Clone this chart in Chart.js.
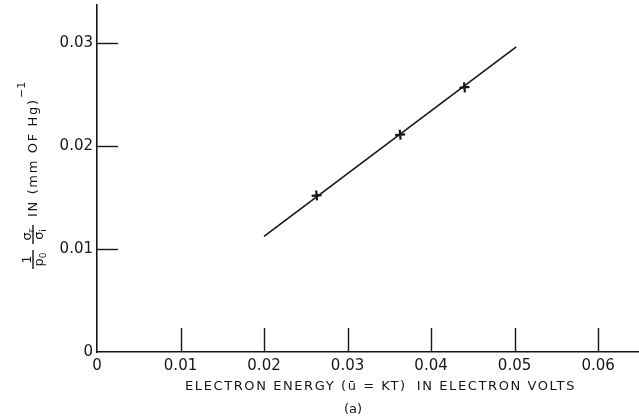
<!DOCTYPE html>
<html><head><meta charset="utf-8">
<script src="https://cdn.jsdelivr.net/npm/chart.js@4/dist/chart.umd.min.js"></script>
<style>html,body{margin:0;padding:0;background:#fff}#wrap{width:639px;height:420px}</style>
</head><body><div id="wrap"><canvas id="c" width="639" height="420"></canvas></div>
<script>
// ---- data ----
const fitLineX = [0.0200, 0.0502];
const fitLineY = [0.01123, 0.02963];
const pointX = [0.0263, 0.0363, 0.0440];
const pointY = [0.0152, 0.0211, 0.0257];
const xTicks = [0, 0.01, 0.02, 0.03, 0.04, 0.05, 0.06];
const xTickLabels = ['0', '0.01', '0.02', '0.03', '0.04', '0.05', '0.06'];
const yTicks = [0, 0.01, 0.02, 0.03];
const yTickLabels = ['0', '0.01', '0.02', '0.03'];
const xTitle = 'ELECTRON ENERGY (\u016B = KT)  IN ELECTRON VOLTS';
const yTitleMain = 'IN (mm OF Hg)';
const yTitleSup = '\u22121';
const panelLabel = '(a)';

const INK = '#161616';
const FONT = 'DejaVu Sans';
Chart.defaults.font.family = FONT;
Chart.defaults.color = INK;

function fitText(ctx, text, x, y, width) {
  ctx.letterSpacing = '0px';
  const w = ctx.measureText(text).width;
  const ls = (width - w) / Math.max(1, text.length - 1);
  ctx.letterSpacing = ls.toFixed(2) + 'px';
  ctx.textAlign = 'left';
  ctx.fillText(text, x, y);
  ctx.letterSpacing = '0px';
}
function fitWords(ctx, text, x, y, width, ls) {
  ctx.letterSpacing = ls + 'px';
  ctx.textAlign = 'left';
  const words = text.split(/\s+/);
  const ws = words.map(t => ctx.measureText(t).width);
  const total = ws.reduce((a, b) => a + b, 0);
  const weights = words.map((t, i) => (i === 0 ? 0 : (t === 'IN' ? 1.8 : 1)));
  const wsum = weights.reduce((a, b) => a + b, 0);
  const unit = (width - total) / wsum;
  let cx = x;
  words.forEach((t, i) => {
    cx += weights[i] * unit;
    ctx.fillText(t, cx, y);
    cx += ws[i];
  });
  ctx.letterSpacing = '0px';
}
function withSub(ctx, base, sub, cx, baseline, size) {
  ctx.font = size + 'px ' + FONT;
  const wb = ctx.measureText(base).width;
  ctx.font = Math.round(size * 0.7) + 'px ' + FONT;
  const ws = ctx.measureText(sub).width;
  const start = cx - (wb + ws) / 2;
  ctx.textAlign = 'left';
  ctx.font = size + 'px ' + FONT;
  ctx.fillText(base, start, baseline);
  ctx.font = Math.round(size * 0.7) + 'px ' + FONT;
  ctx.fillText(sub, start + wb, baseline + 3);
}

const decor = {
  id: 'decor',
  afterDraw(chart) {
    const {ctx, chartArea, scales} = chart;
    const xs = scales.x, ys = scales.y;
    ctx.save();
    ctx.strokeStyle = INK;
    ctx.lineWidth = 1.4;
    // inward tick marks
    xTicks.forEach(v => {
      if (v === 0) return;
      const px = Math.round(xs.getPixelForValue(v)) + 0.5;
      ctx.beginPath();
      ctx.moveTo(px, chartArea.bottom);
      ctx.lineTo(px, chartArea.bottom - 24);
      ctx.stroke();
    });
    yTicks.forEach(v => {
      if (v === 0) return;
      const py = Math.round(ys.getPixelForValue(v)) + 0.5;
      ctx.beginPath();
      ctx.moveTo(chartArea.left, py);
      ctx.lineTo(chartArea.left + 21, py);
      ctx.stroke();
    });
    // x title
    ctx.fillStyle = INK;
    ctx.textBaseline = 'alphabetic';
    ctx.font = '13px ' + FONT;
    fitWords(ctx, xTitle, 185, 390, 391, 1.6);
    ctx.font = '13px ' + FONT;
    ctx.textAlign = 'center';
    ctx.fillText(panelLabel, 353, 413);
    // y title (rotated), with fractions 1/p0 and sigma_r/sigma_i
    ctx.translate(37, 270);
    ctx.rotate(-Math.PI / 2);
    ctx.lineWidth = 1.4;
    ctx.beginPath(); ctx.moveTo(1, -4); ctx.lineTo(20, -4); ctx.stroke();
    ctx.beginPath(); ctx.moveTo(26, -4); ctx.lineTo(45, -4); ctx.stroke();
    ctx.font = '13px ' + FONT;
    ctx.textAlign = 'center';
    ctx.fillText('1', 10.5, -6.5);
    withSub(ctx, 'p', '0', 10.5, 5.5, 13);
    withSub(ctx, '\u03C3', 'r', 35.5, -6.5, 13);
    withSub(ctx, '\u03C3', 'i', 35.5, 5.5, 13);
    ctx.font = '13px ' + FONT;
    fitText(ctx, yTitleMain, 53, 0, 117);
    ctx.font = '11px ' + FONT;
    ctx.textAlign = 'left';
    ctx.fillText(yTitleSup, 172, -12);
    ctx.restore();
  }
};

new Chart(document.getElementById('c'), {
  type: 'scatter',
  data: {
    datasets: [
      {
        type: 'line',
        data: fitLineX.map((x, i) => ({x, y: fitLineY[i]})),
        borderColor: INK,
        borderWidth: 1.6,
        pointRadius: 0,
        fill: false
      },
      {
        data: pointX.map((x, i) => ({x, y: pointY[i]})),
        pointStyle: 'crossRot',
        rotation: 40,
        pointRadius: 5,
        borderWidth: 2.2,
        borderColor: INK,
        backgroundColor: INK,
        showLine: false
      }
    ]
  },
  options: {
    responsive: false,
    animation: false,
    events: [],
    layout: {autoPadding: false, padding: {top: 5, right: 0, bottom: 0, left: 0}},
    plugins: {legend: {display: false}, tooltip: {enabled: false}},
    scales: {
      x: {
        type: 'linear', min: 0, max: 0.0649,
        afterBuildTicks: s => { s.ticks = xTicks.map(v => ({value: v})); },
        afterFit: s => { s.height = 68; s.paddingLeft = 0; s.paddingRight = 0; },
        ticks: {
          callback: v => xTickLabels[xTicks.indexOf(v)],
          font: {size: 15, family: FONT}, color: INK,
          padding: 5, maxRotation: 0, autoSkip: false
        },
        grid: {display: true, drawOnChartArea: false, drawTicks: false},
        border: {display: true, color: INK, width: 1.6}
      },
      y: {
        type: 'linear', min: 0, max: 0.0337,
        afterBuildTicks: s => { s.ticks = yTicks.map(v => ({value: v})); },
        afterFit: s => { s.width = 97; s.paddingTop = 0; s.paddingBottom = 0; },
        ticks: {
          callback: v => yTickLabels[yTicks.indexOf(v)],
          font: {size: 15, family: FONT}, color: INK,
          padding: 4, autoSkip: false
        },
        grid: {display: true, drawOnChartArea: false, drawTicks: false},
        border: {display: true, color: INK, width: 1.6}
      }
    }
  },
  plugins: [decor]
});
</script>
</body></html>
